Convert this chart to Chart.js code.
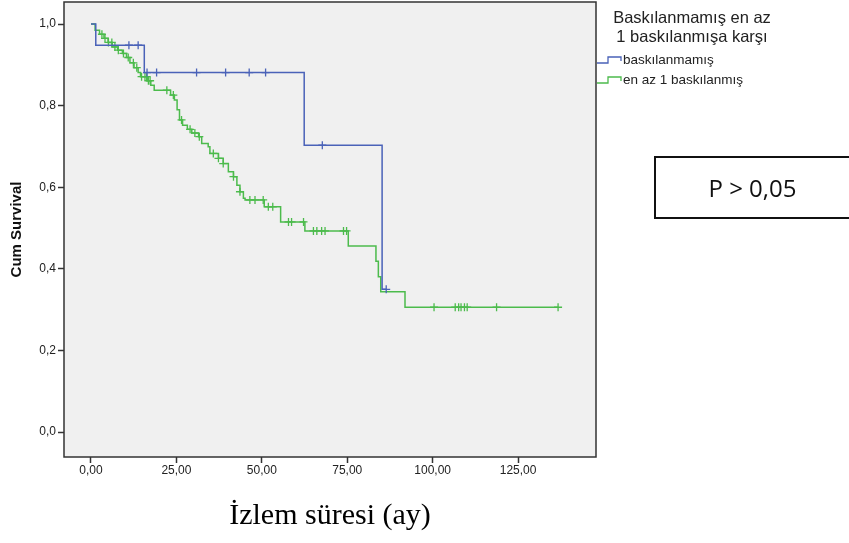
<!DOCTYPE html>
<html>
<head>
<meta charset="utf-8">
<script src="https://cdn.jsdelivr.net/npm/chart.js@4/dist/chart.umd.min.js"></script>
<style>
  body { margin: 0; background: #fff; }
  #wrap { position: relative; width: 849px; height: 543px; overflow: hidden; }
  #chartCanvas { position: absolute; left: 0; top: 0; }
  .legTitle { position: absolute; left: 592px; width: 200px; text-align: center; font: 16.5px "Liberation Sans", Arial, sans-serif; color: #222; }
  .legItem { position: absolute; left: 597px; font: 13.5px "Liberation Sans", Arial, sans-serif; color: #222; white-space: nowrap; }
  .legItem svg { vertical-align: middle; margin-right: 0; }
  #pbox { position: absolute; left: 654px; top: 156px; width: 197px; height: 59px; border: 2px solid #111; font: 24px "Open Sans", sans-serif; color: #111; line-height: 59px; text-align: center; box-sizing: content-box; }
  #pbox span { position: relative; left: -2px; }
</style>
</head>
<body>
<div id="wrap">
  <canvas id="chartCanvas" width="849" height="543"></canvas>
  <div class="legTitle" style="top:8px">Baskılanmamış en az</div>
  <div class="legTitle" style="top:27px">1 baskılanmışa karşı</div>
  <div class="legItem" style="top:52px"><svg width="26" height="10"><polyline points="0,8 11,8 11,2 24,2 24,6" fill="none" stroke="#4a62b8" stroke-width="1.3"/></svg>baskılanmamış</div>
  <div class="legItem" style="top:72px"><svg width="26" height="10"><polyline points="0,8 11,8 11,2 24,2 24,6" fill="none" stroke="#4cbb4c" stroke-width="1.3"/></svg>en az 1 baskılanmış</div>
  <div id="pbox"><span>P &gt; 0,05</span></div>
</div>
<script>
// Kaplan-Meier steps
const seriesNames = ['baskılanmamış', 'en az 1 baskılanmış'];

const blueTimes = [0, 1.4, 15.6, 62.4, 85.2, 86.4];
const blueSurv = [1, 0.948, 0.881, 0.703, 0.35, 0.35];
const blueCensored = [11.1, 13.8, 16.4, 19.2, 30.9, 39.4, 46.3, 51.1, 67.7, 86.4];

const greenTimes = [0, 1.2, 2.5, 3.8, 5, 6.2, 7.8, 9.2, 10.4, 11.4, 12.6, 13.8, 14.5, 16.5, 17.5, 18.5,
  23.3, 24.4, 25.2, 25.9, 26.8, 28.2, 29.5, 31.5, 32.4, 34.3, 34.8, 37.3, 38.7, 40.2, 41.7, 42.7,
  43.6, 44.6, 45.1, 50.7, 55.5, 62.6, 75.3, 83.4, 84.1, 84.8, 91.9, 136.7];
const greenSurv = [1, 0.985, 0.975, 0.965, 0.955, 0.944, 0.936, 0.928, 0.918, 0.905, 0.893, 0.881, 0.871, 0.861, 0.85, 0.838,
  0.826, 0.814, 0.79, 0.765, 0.752, 0.742, 0.733, 0.724, 0.707, 0.699, 0.683, 0.671, 0.658, 0.638, 0.626, 0.605,
  0.589, 0.573, 0.569, 0.552, 0.515, 0.493, 0.456, 0.419, 0.381, 0.344, 0.306, 0.306];
const greenCensored = [3.2, 4.1, 5.1, 6.1, 7, 8, 9.5, 10.9, 12.4, 13.4, 14.8, 15.8, 16.3, 16.8, 17.3, 22.2,
  24.1, 26.5, 29, 30.4, 31.7, 35.8, 37.3, 38.7, 41.7, 43.6, 46.5, 48, 50.4, 51.9, 53.2, 57.8, 58.7,
  62.2, 65.1, 66.1, 67.5, 68.5, 73.9, 74.8, 100.4, 106.6, 107.6, 108.3, 109.3, 110.1, 118.7, 136.7];

const xTicks = [0, 25, 50, 75, 100, 125];
const yTicks = [0, 0.2, 0.4, 0.6, 0.8, 1.0];

const blueColor = '#4a62b8';
const greenColor = '#4cbb4c';

// survival value at time t (for placing censor marks on the curve)
function survAt(times, surv, t) {
    let s = surv[0];
    for (let i = 0; i < times.length; i++) {
        if (times[i] <= t) s = surv[i];
    }
    return s;
}

function toPoints(times, surv) {
    return times.map((t, i) => ({ x: t, y: surv[i] }));
}

function censorPoints(times, surv, cens) {
    return cens.map(t => ({ x: t, y: survAt(times, surv, t) }));
}

// gray plot background and frame
const framePlugin = {
    id: 'frame',
    beforeDraw(chart) {
        const a = chart.chartArea;
        const ctx = chart.ctx;
        ctx.save();
        ctx.fillStyle = '#f0f0f0';
        ctx.fillRect(a.left, a.top, a.right - a.left, a.bottom - a.top);
        ctx.restore();
    },
    afterDraw(chart) {
        const a = chart.chartArea;
        const ctx = chart.ctx;
        ctx.save();
        ctx.strokeStyle = '#333';
        ctx.lineWidth = 1.5;
        ctx.strokeRect(a.left, a.top, a.right - a.left, a.bottom - a.top);
        ctx.restore();
    }
};

let chart;
renderChart();

function renderChart() {
    const ctx = document.getElementById('chartCanvas').getContext('2d');
    chart = new Chart(ctx, {
        type: 'line',
        data: {
            datasets: [
                {
                    label: seriesNames[0],
                    data: toPoints(blueTimes, blueSurv),
                    borderColor: blueColor,
                    borderWidth: 1.5,
                    stepped: true,
                    pointRadius: 0,
                    fill: false
                },
                {
                    label: seriesNames[0] + ' censored',
                    data: censorPoints(blueTimes, blueSurv, blueCensored),
                    showLine: false,
                    pointStyle: 'cross',
                    pointRadius: 4,
                    borderColor: blueColor,
                    borderWidth: 1.3
                },
                {
                    label: seriesNames[1],
                    data: toPoints(greenTimes, greenSurv),
                    borderColor: greenColor,
                    borderWidth: 1.5,
                    stepped: true,
                    pointRadius: 0,
                    fill: false
                },
                {
                    label: seriesNames[1] + ' censored',
                    data: censorPoints(greenTimes, greenSurv, greenCensored),
                    showLine: false,
                    pointStyle: 'cross',
                    pointRadius: 4,
                    borderColor: greenColor,
                    borderWidth: 1.3
                }
            ]
        },
        options: {
            responsive: false,
            animation: false,
            layout: { autoPadding: false, padding: { top: 2, right: 253, left: 0, bottom: 0 } },
            plugins: {
                legend: { display: false },
                tooltip: { enabled: false }
            },
            scales: {
                x: {
                    type: 'linear',
                    min: -7.9,
                    max: 147.8,
                    afterBuildTicks: s => { s.ticks = xTicks.map(v => ({ value: v })); },
                    afterFit: s => { s.height = 86; s.paddingLeft = 0; s.paddingRight = 0; },
                    grid: { drawOnChartArea: false, tickLength: 6, color: '#333', tickWidth: 1.5 },
                    border: { display: false },
                    ticks: {
                        padding: 0,
                        color: '#222',
                        font: { family: '"Liberation Sans", Arial', size: 12 },
                        callback: v => v.toFixed(2).replace('.', ',')
                    },
                    title: {
                        display: true,
                        text: 'İzlem süresi (ay)',
                        color: '#000',
                        font: { family: '"Liberation Serif", "Times New Roman", serif', size: 30 },
                        padding: { top: 0, bottom: 9 }
                    }
                },
                y: {
                    min: -0.061,
                    max: 1.054,
                    afterBuildTicks: s => { s.ticks = yTicks.map(v => ({ value: v })); },
                    afterFit: s => { s.width = 64; s.paddingTop = 0; s.paddingBottom = 0; },
                    grid: { drawOnChartArea: false, tickLength: 6, color: '#333', tickWidth: 1.5 },
                    border: { display: false },
                    ticks: {
                        padding: 2,
                        color: '#222',
                        font: { family: '"Liberation Sans", Arial', size: 12 },
                        callback: v => v.toFixed(1).replace('.', ',')
                    },
                    title: {
                        display: true,
                        text: 'Cum Survival',
                        color: '#111',
                        font: { family: '"Liberation Sans", Arial', size: 15, weight: 'bold' },
                        padding: { top: 8, bottom: 0 }
                    }
                }
            }
        },
        plugins: [framePlugin]
    });
}
</script>
</body>
</html>
